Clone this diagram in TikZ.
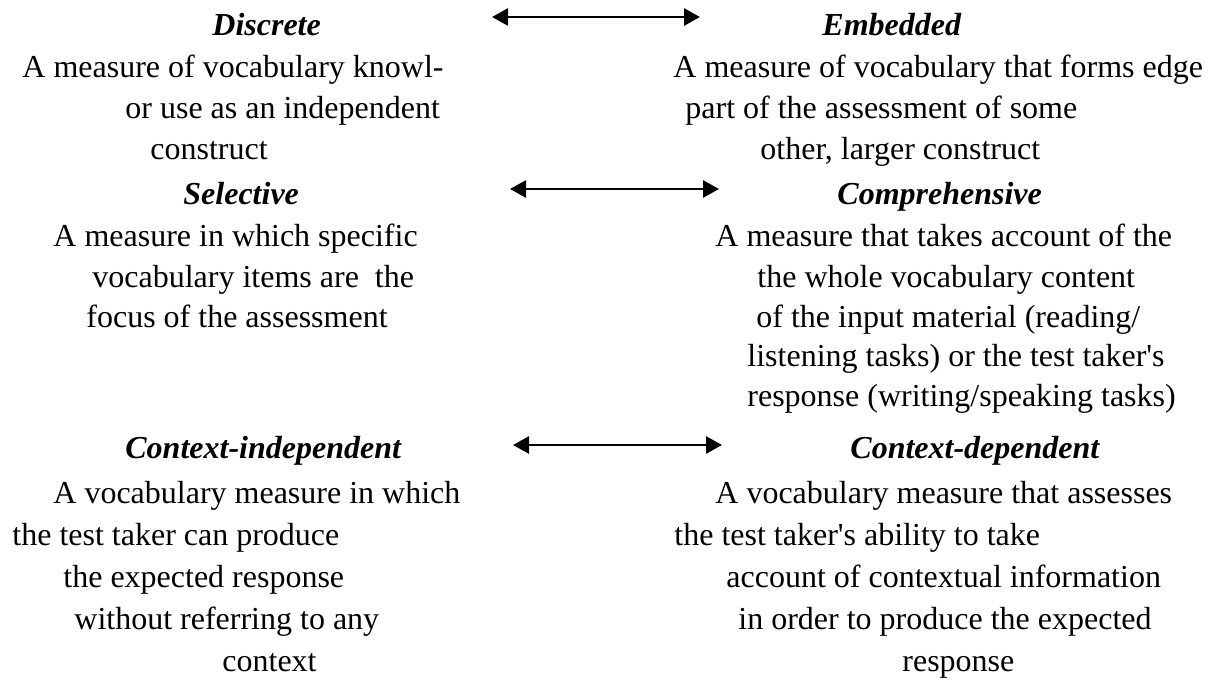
\documentclass[tikz,border=0pt]{standalone}
\usepackage{fontspec}
\setmainfont{Liberation Serif}
\usetikzlibrary{arrows.meta}

\begin{document}
\begin{tikzpicture}
[x=0.5pt,y=-0.5pt,%
  headdecorate/.style={anchor=base west,inner sep=0pt,font=\fontsize{16}{19}\selectfont\bfseries\itshape},%
  textdecorate/.style={anchor=base west,inner sep=0pt,font=\fontsize{16}{19}\selectfont},%
  arrowdecorate/.style={{Triangle[length=8pt,width=8.5pt]}-{Triangle[length=8pt,width=8.5pt]},line width=1.4pt}]
\useasboundingbox (0,0) rectangle (1210,680);
%% headings
\foreach \nodename/\x/\y/\txt in {discrete/212/35/Discrete, embedded/822/35/Embedded,
  selective/183/204/Selective, comprehensive/837/204/Comprehensive,
  indep/125/458/Context-independent, dep/850/458/Context-dependent}
{
  \node (\nodename) at (\x,\y) [headdecorate] {\txt};
}
%% descriptions, left side
\foreach \nodename/\x/\y/\txt in {dl1/22/77/{A measure of vocabulary knowl-},
  dl2/125/118/{or use as an independent}, dl3/150/159/{construct},
  sl1/53/246/{A measure in which specific}, sl2/92/287/{vocabulary items are\ \ the},
  sl3/86/327/{focus of the assessment},
  il1/53/503/{A vocabulary measure in which}, il2/12/545/{the test taker can produce},
  il3/63/587/{the expected response}, il4/74/629/{without referring to any},
  il5/222/671/{context}}
{
  \node (\nodename) at (\x,\y) [textdecorate] {\txt};
}
%% descriptions, right side
\foreach \nodename/\x/\y/\txt in {er1/673/77/{A measure of vocabulary that forms edge},
  er2/685/118/{part of the assessment of some}, er3/760/159/{other, larger construct},
  cr1/715/246/{A measure that takes account of the}, cr2/757/287/{the whole vocabulary content},
  cr3/756/327/{of the input material (reading/},
  cr4/747/366/{listening tasks) or the test taker\textquotesingle s},
  cr5/747/406/{response (writing/speaking tasks)},
  dr1/715/503/{A vocabulary measure that assesses},
  dr2/674/545/{the test taker\textquotesingle s ability to take},
  dr3/726/587/{account of contextual information},
  dr4/738/629/{in order to produce the expected}, dr5/902/671/{response}}
{
  \node (\nodename) at (\x,\y) [textdecorate] {\txt};
}
%% double arrows
\foreach \pairname/\xa/\xb/\y in {one/492/700/17, two/510/719/189, three/513/722/445}
{
  \coordinate (\pairname-l) at (\xa,\y);
  \coordinate (\pairname-r) at (\xb,\y);
  \draw[arrowdecorate] (\pairname-l) -- (\pairname-r);
}
\end{tikzpicture}
\end{document}
